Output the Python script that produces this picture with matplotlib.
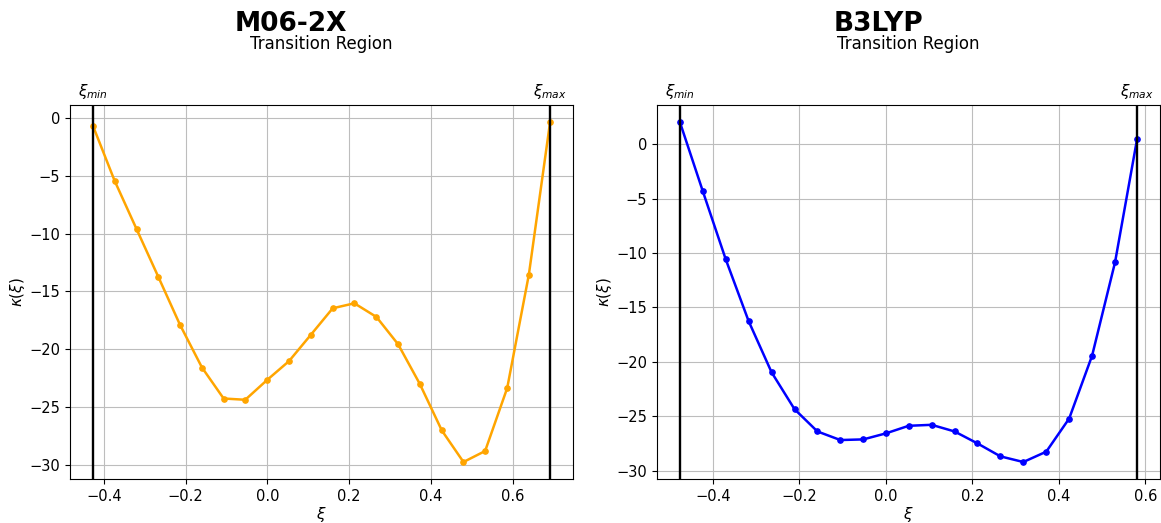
import numpy as np
import matplotlib as mpl
mpl.use('Agg')
import matplotlib.pyplot as plt

# M06-2X data
xi_m06 = [-0.427, -0.374, -0.320, -0.267, -0.214, -0.160, -0.107, -0.054,
          0.000, 0.053, 0.107, 0.160, 0.213, 0.267, 0.320, 0.373,
          0.427, 0.480, 0.533, 0.587, 0.640, 0.692]
kappa_m06 = [-0.66, -5.41, -9.61, -13.72, -17.86, -21.57, -24.25, -24.36,
             -22.63, -21.02, -18.72, -16.45, -16.02, -17.20, -19.56, -22.98,
             -27.01, -29.74, -28.79, -23.35, -13.55, -0.35]

# B3LYP data
xi_b3 = [-0.476, -0.423, -0.370, -0.317, -0.264, -0.211, -0.158, -0.105,
         -0.052, 0.000, 0.053, 0.106, 0.159, 0.212, 0.265, 0.318,
         0.371, 0.424, 0.477, 0.530, 0.581]
kappa_b3 = [2.05, -4.31, -10.57, -16.26, -20.96, -24.35, -26.40, -27.19,
            -27.13, -26.58, -25.88, -25.79, -26.40, -27.50, -28.69, -29.21,
            -28.26, -25.21, -19.43, -10.85, 0.49]

panels = [("M06-2X", xi_m06, kappa_m06, 'orange'),
          ("B3LYP", xi_b3, kappa_b3, 'blue')]

fig = plt.figure(figsize=(11.61, 5.23), dpi=100)
positions = [[0.0603, 0.0841, 0.4332, 0.7151],
             [0.5659, 0.0841, 0.4332, 0.7151]]

for pos, (name, x, y, col) in zip(positions, panels):
    ax = fig.add_axes(pos)
    ax.plot(x, y, '-o', color=col, lw=1.8, ms=3.8)
    ax.axvline(x[0], color='black', lw=1.7)
    ax.axvline(x[-1], color='black', lw=1.7)
    ax.grid(True, color='#bdbdbd', lw=0.8)
    ax.set_axisbelow(True)
    ax.tick_params(labelsize=10.5)
    ax.set_xlabel(r"$\xi$", fontsize=11, labelpad=1)
    ax.set_ylabel(r"$\kappa(\xi)$", fontsize=11, labelpad=2)
    trans = ax.get_xaxis_transform()
    ax.text(x[0], 1.01, r"$\xi_{min}$", transform=trans, ha='center',
            va='bottom', fontsize=11)
    ax.text(x[-1], 1.01, r"$\xi_{max}$", transform=trans, ha='center',
            va='bottom', fontsize=11)
    ax.text(0.5, 1.15, "Transition Region", transform=ax.transAxes,
            ha='center', va='baseline', fontsize=12)
    ax.text(0.44, 1.197, name, transform=ax.transAxes, ha='center',
            va='baseline', fontsize=19, fontweight='bold')

fig.savefig('out.png', dpi=100)
